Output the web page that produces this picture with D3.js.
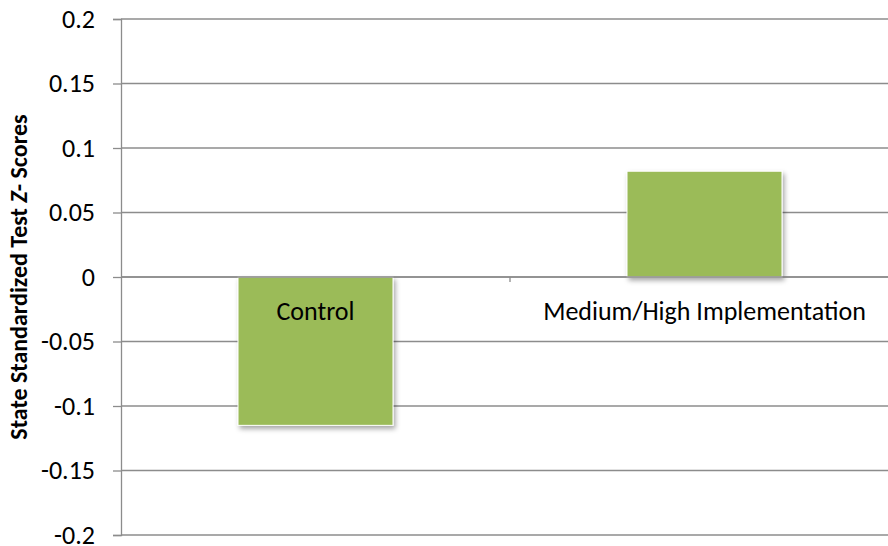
<!DOCTYPE html>
<html><head><meta charset="utf-8">
<script src="https://cdn.jsdelivr.net/npm/d3@7"></script>
<style>body{margin:0;background:#fff}svg{display:block}</style>
</head><body>
<script>
const categories = ["Control", "Medium/High Implementation"];
const values = [-0.115, 0.082];
const yTicks = [-0.2, -0.15, -0.1, -0.05, 0, 0.05, 0.1, 0.15, 0.2];
const yTickLabels = ["-0.2", "-0.15", "-0.1", "-0.05", "0", "0.05", "0.1", "0.15", "0.2"];

const W = 888, H = 546;
const mLeft = 121, mRight = 899, mTop = 19, mBottom = 535;
const font = "Carlito, 'Open Sans', 'Noto Sans', sans-serif";

const svg = d3.select("body").append("svg").attr("width", W).attr("height", H);
const defs = svg.append("defs");
const f = defs.append("filter").attr("id", "sh").attr("x", "-20%").attr("y", "-20%").attr("width", "140%").attr("height", "140%");
f.append("feDropShadow").attr("dx", 2).attr("dy", 3).attr("stdDeviation", 2.5).attr("flood-color", "#000").attr("flood-opacity", 0.35);

const y = d3.scaleLinear().domain([-0.2, 0.2]).range([mBottom, mTop]);
const x = d3.scaleBand().domain(categories).range([mLeft, mRight]).paddingInner(0).paddingOuter(0);

// gridlines
svg.append("g").selectAll("line").data(yTicks).join("line")
  .attr("x1", mLeft).attr("x2", W).attr("y1", d => y(d)).attr("y2", d => y(d))
  .attr("stroke", "#8c8c8c").attr("stroke-width", 1.3);

// y axis
const yAxis = d3.axisLeft(y).tickValues(yTicks).tickSize(8).tickPadding(18)
  .tickFormat((d, i) => yTickLabels[i]);
const ga = svg.append("g").attr("transform", `translate(${mLeft},0)`).call(yAxis);
ga.select(".domain").attr("stroke", "#8c8c8c").attr("stroke-width", 1.3);
ga.selectAll(".tick line").attr("stroke", "#8c8c8c").attr("stroke-width", 1.3);
ga.selectAll(".tick text").attr("font-family", font).attr("font-size", 26).attr("fill", "#000");

// bars
const bw = 155;
svg.append("g").selectAll("rect").data(values).join("rect")
  .attr("x", (d, i) => x(categories[i]) + x.bandwidth() / 2 - bw / 2)
  .attr("width", bw)
  .attr("y", d => y(Math.max(0, d)))
  .attr("height", d => Math.abs(y(d) - y(0)))
  .attr("fill", "#9BBB59").attr("stroke", "#fff").attr("stroke-width", 1)
  .attr("filter", "url(#sh)");

// category axis at zero
svg.append("line").attr("x1", mLeft).attr("x2", W).attr("y1", y(0)).attr("y2", y(0))
  .attr("stroke", "#8c8c8c").attr("stroke-width", 1.3);
svg.append("line").attr("x1", x(categories[1])).attr("x2", x(categories[1]))
  .attr("y1", y(0)).attr("y2", y(0) + 5).attr("stroke", "#8c8c8c").attr("stroke-width", 1.3);

svg.append("g").selectAll("text").data(categories).join("text")
  .attr("x", d => x(d) + x.bandwidth() / 2).attr("y", y(0) + 43)
  .attr("text-anchor", "middle").attr("font-family", font).attr("font-size", 26)
  .attr("fill", "#000").text(d => d);

// y title
const t = svg.append("text").attr("transform", `translate(27,${(mTop + mBottom) / 2}) rotate(-90)`)
  .attr("text-anchor", "middle").attr("font-family", font).attr("font-size", 24)
  .attr("font-weight", "bold").attr("fill", "#000");
t.append("tspan").text("State Standardized Test ");
t.append("tspan").attr("font-style", "italic").text("Z");
t.append("tspan").text("- Scores");
</script>
</body></html>
